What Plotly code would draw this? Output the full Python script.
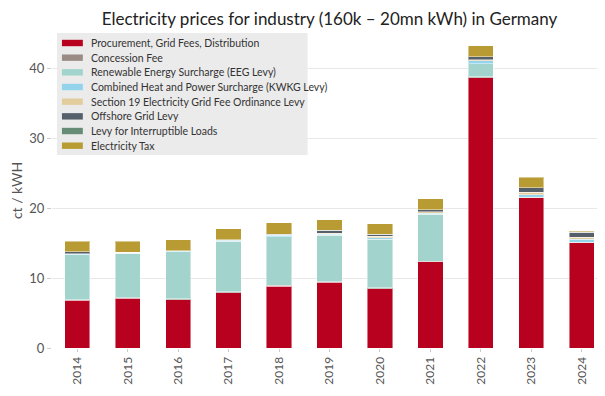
import plotly.graph_objects as go

years = ["2014", "2015", "2016", "2017", "2018", "2019", "2020", "2021", "2022", "2023", "2024"]

procurement = [6.81, 7.09, 6.90, 7.90, 8.85, 9.37, 8.50, 12.29, 38.63, 21.44, 15.03]
concession = [0.11, 0.11, 0.11, 0.11, 0.11, 0.11, 0.11, 0.11, 0.11, 0.11, 0.11]
eeg = [6.40, 6.31, 6.73, 7.25, 6.92, 6.63, 6.91, 6.73, 1.89, 0.0, 0.0]
kwkg = [0.06, 0.06, 0.07, 0.10, 0.23, 0.15, 0.20, 0.15, 0.38, 0.33, 0.38]
section19 = [0.08, 0.08, 0.08, 0.09, 0.10, 0.14, 0.23, 0.22, 0.20, 0.38, 0.33]
offshore = [0.28, 0.0, 0.0, 0.0, 0.05, 0.42, 0.30, 0.24, 0.42, 0.66, 0.71]
interruptible = [0.01, 0.01, 0.0, 0.01, 0.01, 0.01, 0.01, 0.01, 0.0, 0.0, 0.0]
electricity_tax = [1.51, 1.56, 1.61, 1.56, 1.65, 1.52, 1.50, 1.57, 1.52, 1.47, 0.10]

series = [
    ("Procurement, Grid Fees, Distribution", procurement, "#b8001f"),
    ("Concession Fee", concession, "#9a8c84"),
    ("Renewable Energy Surcharge (EEG Levy)", eeg, "#a2d3cc"),
    ("Combined Heat and Power Surcharge (KWKG Levy)", kwkg, "#93d4ec"),
    ("Section 19 Electricity Grid Fee Ordinance Levy", section19, "#e3cd9f"),
    ("Offshore Grid Levy", offshore, "#55606a"),
    ("Levy for Interruptible Loads", interruptible, "#668c75"),
    ("Electricity Tax", electricity_tax, "#b89c33"),
]

W, H = 605, 396
ML, MR, MT, MB = 41, 6, 25, 56
PW = W - ML - MR
PH = H - MT - MB


def px_x(px):
    return (px - ML) / PW


def px_y(py):
    return (H - MB - py) / PH


font_family = "Lato, 'Open Sans', sans-serif"

fig = go.Figure()
for name, vals, color in series:
    fig.add_trace(go.Bar(
        x=years, y=vals, name=name, showlegend=False,
        marker=dict(color=color, line=dict(color="rgba(255,255,255,0.45)", width=1)),
    ))

# custom legend (compact rows like the reference)
shapes = [dict(
    type="rect", xref="paper", yref="paper", layer="above",
    x0=px_x(46), x1=px_x(298), y0=px_y(147), y1=px_y(25),
    fillcolor="#ebebeb", line=dict(width=0),
)]
annotations = []
row_y0, row_step = 35.0, 14.67
for i, (name, vals, color) in enumerate(series):
    cy = row_y0 + i * row_step
    shapes.append(dict(
        type="rect", xref="paper", yref="paper", layer="above",
        x0=px_x(51), x1=px_x(72), y0=px_y(cy + 3.2), y1=px_y(cy - 3.2),
        fillcolor=color, line=dict(width=0),
    ))
    annotations.append(dict(
        xref="paper", yref="paper", x=px_x(78), y=px_y(cy),
        xanchor="left", yanchor="middle", showarrow=False,
        text=name, font=dict(size=10.5, color="#333333", family=font_family),
    ))

fig.update_layout(
    barmode="stack",
    bargap=0.5,
    width=W, height=H,
    margin=dict(l=ML, r=MR, t=MT, b=MB),
    paper_bgcolor="white",
    plot_bgcolor="white",
    font=dict(family=font_family, color="#555555", size=12),
    title=dict(
        text="Electricity prices for industry (160k – 20mn kWh) in Germany",
        xref="paper", x=0.5, xanchor="center", y=0.988, yanchor="top",
        font=dict(size=17, color="#222222", family=font_family),
    ),
    showlegend=False,
    shapes=shapes,
    annotations=annotations,
)

fig.update_xaxes(
    type="category",
    tickangle=-90,
    ticks="outside", ticklen=3, tickcolor="#cccccc",
    showgrid=False, showline=False, zeroline=False,
    tickfont=dict(size=12, color="#555555"),
)
fig.update_yaxes(
    range=[0, 45],
    tickvals=[0, 10, 20, 30, 40],
    ticks="outside", ticklen=4, tickcolor="#cccccc",
    showgrid=True, gridcolor="#e8e8e8", gridwidth=1,
    zeroline=False, showline=False,
    title=dict(text="ct / kWH", font=dict(size=14, color="#555555"), standoff=6),
    tickfont=dict(size=13, color="#555555"),
)

fig.write_html("out.html")
